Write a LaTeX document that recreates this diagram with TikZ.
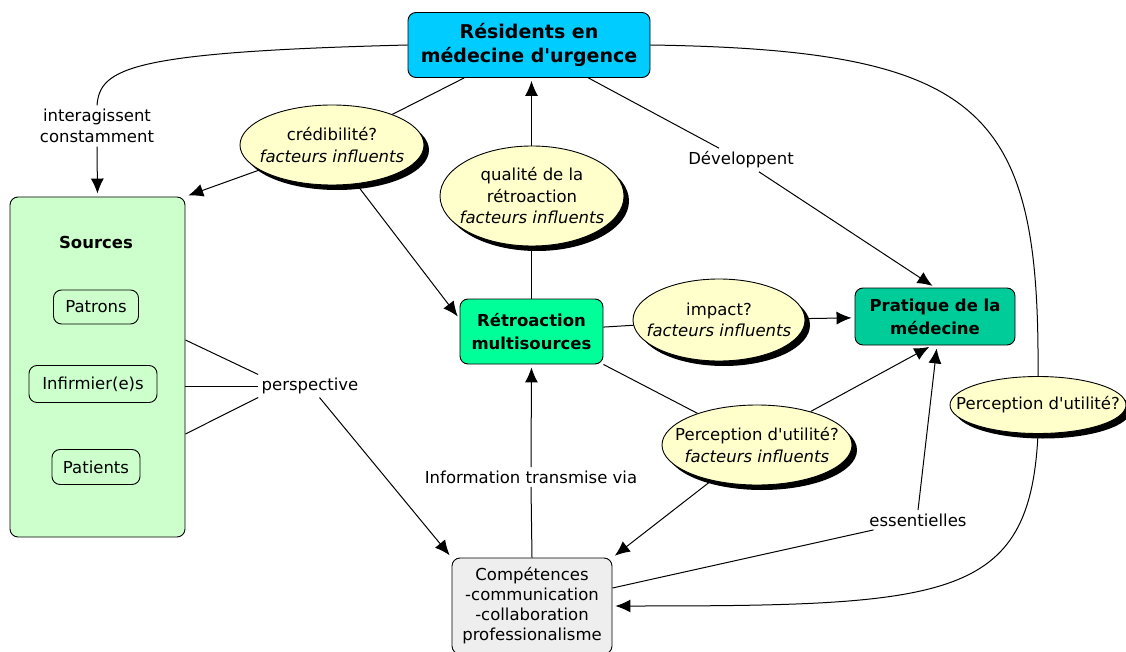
\documentclass[tikz,border=0pt]{standalone}
\usepackage{fontspec}
\setmainfont{DejaVu Sans}
\usetikzlibrary{shapes.geometric,shadows,arrows.meta}
\definecolor{resblue}{HTML}{00CCFF}
\definecolor{srcgreen}{HTML}{CCFFCC}
\definecolor{retrogreen}{HTML}{00FF99}
\definecolor{pratgreen}{HTML}{00CC99}
\definecolor{compgrey}{HTML}{EEEEEE}
\definecolor{bulle}{HTML}{FFFFCC}
\newcommand{\apos}{\textquotesingle}
\tikzset{
  concept/.style={draw,rounded corners=8pt,line width=0.9pt,align=center,inner sep=0pt},
  question/.style={ellipse,draw,fill=bulle,line width=0.9pt,inner sep=0pt,
    drop shadow={shadow xshift=5pt,shadow yshift=-5pt,fill=black,opacity=1}},
  qtext/.style={align=center,inner sep=0pt},
  linklabel/.style={align=center,fill=white},
  conn/.style={line width=1pt},
  connarrow/.style={conn,-{Latex[length=15pt,width=13pt]},shorten >=3pt},
}
\begin{document}
\begin{tikzpicture}[x=1pt,y=-1pt,font=\fontsize{16.5}{21.5}\selectfont]
    \useasboundingbox[fill=white] (0,0) rectangle (1126,652);
    % concepts
    \node[concept,fill=resblue,minimum width=242,minimum height=65,
      font=\fontsize{19}{24}\selectfont\bfseries] (res) at (529,45) {Résidents en\\médecine d\apos urgence};
    \node[concept,fill=srcgreen,minimum width=175,minimum height=340] (src) at (97.5,367) {};
    \node[font=\fontsize{16.5}{21.5}\selectfont\bfseries] (srctitle) at (96,242) {Sources};
    \node[concept,fill=srcgreen,minimum width=85,minimum height=34] (pat) at (96,307) {Patrons};
    \node[concept,fill=srcgreen,minimum width=128,minimum height=37] (inf) at (93,384) {Infirmier(e)s};
    \node[concept,fill=srcgreen,minimum width=88,minimum height=35] (pts) at (96,467) {Patients};
    \node[concept,fill=retrogreen,minimum width=143,minimum height=65,
      font=\fontsize{16.5}{23}\selectfont\bfseries] (retro) at (531.5,331.5) {Rétroaction\\multisources};
    \node[concept,fill=pratgreen,minimum width=160,minimum height=57,
      font=\fontsize{16.5}{23}\selectfont\bfseries] (prat) at (935,316.5) {Pratique de la\\médecine};
    \node[concept,fill=compgrey,minimum width=160,minimum height=96,
      font=\fontsize{16.5}{20}\selectfont] (comp) at (532,606) {Compétences\\-communication\\-collaboration\\professionalisme};
    % questions
    \node[question,minimum width=184,minimum height=80] (cred) at (332,145) {};
    \node[qtext] at (cred) {crédibilité?\\\textit{facteurs influents}};
    \node[question,minimum width=184,minimum height=100] (qual) at (532,196) {};
    \node[qtext] at (qual) {qualité de la\\rétroaction\\\textit{facteurs influents}};
    \node[question,minimum width=172,minimum height=82] (imp) at (719,320) {};
    \node[qtext] at (imp) {impact?\\\textit{facteurs influents}};
    \node[question,minimum width=190,minimum height=80] (percF) at (757,445) {};
    \node[qtext] at (percF) {Perception d\apos utilité?\\\textit{facteurs influents}};
    \node[question,minimum width=176,minimum height=57] (percR) at (1038,405) {};
    \node[qtext] at (percR) {Perception d\apos utilité?};
    % link labels
    \node[linklabel] (inter) at (97,126) {interagissent\\constamment};
    \node[linklabel] (dev) at (741,160) {Développent};
    \node[linklabel] (persp) at (310,386) {perspective};
    \node[linklabel] (info) at (531,477) {Information transmise via};
    \node[linklabel] (ess) at (918,520) {essentielles};
    % connectors
    \draw[conn] (res.west) .. controls (130,52) and (100,68) .. (inter.north);
    \draw[connarrow] (inter.south) -- (src.north);
    \draw[conn] (res) -- (cred);
    \draw[connarrow] (cred.199) -- (src.north east);
    \draw[connarrow] (cred.-58) -- (retro.170);
    \draw[conn] (retro.north) -- (retro.north |- qual.south);
    \draw[connarrow] (retro.north |- qual.north) -- (retro.north |- res.south);
    \draw[conn] (res.-29) -- (dev);
    \draw[connarrow] (dev) -- (prat.north);
    \draw[conn] (res.east) .. controls (985,50) and (1040,110) .. (percR.north);
    \draw[connarrow] (percR.south) .. controls (1030,600) and (950,606) .. (comp.east);
    \draw[conn] (retro) -- (imp);
    \draw[connarrow] (imp) -- (prat);
    \draw[conn] (retro.south east) -- (percF.152);
    \draw[connarrow] (percF.32) -- (prat.264);
    \draw[connarrow] (percF.218) -- (comp.north east);
    \foreach \dy/\target in {27/north west,-19/west,-67/south west}
    {
    \draw[conn] ([yshift=\dy pt]src.east) -- (persp.\target);
    }
    \draw[connarrow] (persp) -- (comp.north west);
    \draw[conn] (comp.north) -- (info.south);
    \draw[connarrow] (info.north) -- (retro.south);
    \draw[conn] ([yshift=18pt]comp.east) -- (ess);
    \draw[connarrow] (ess.north) -- (prat.-86);
\end{tikzpicture}
\end{document}
